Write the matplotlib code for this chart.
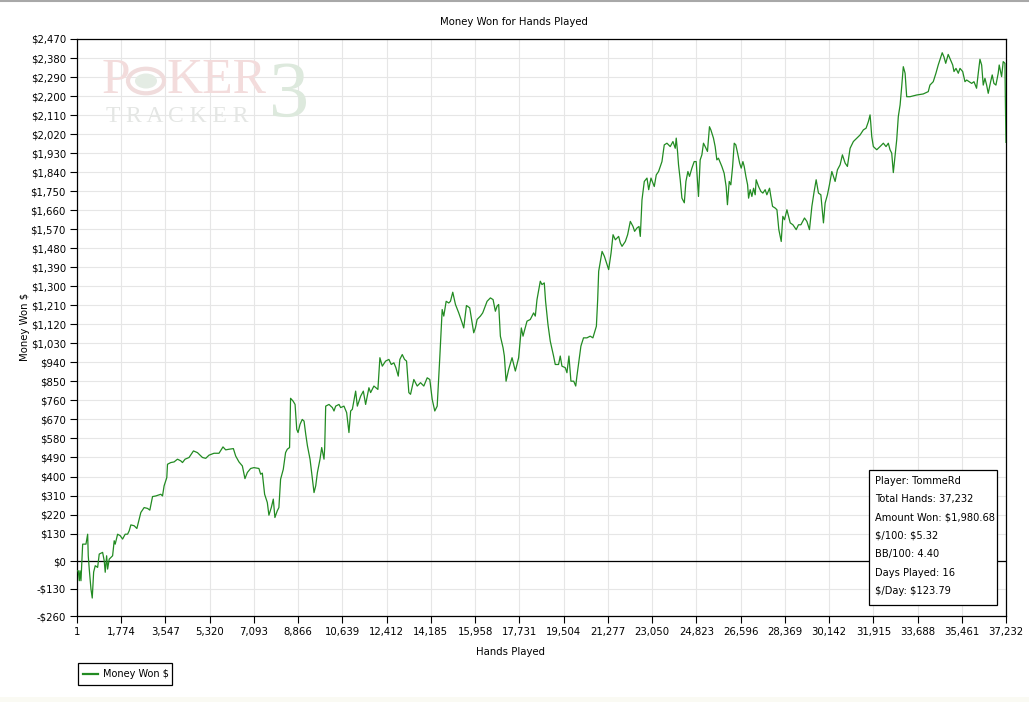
import matplotlib
matplotlib.use("Agg")
import matplotlib.pyplot as plt
from matplotlib.lines import Line2D
from matplotlib.patches import Rectangle, Circle

# ---------------- data ----------------
hands = [1, 52, 92, 120, 160, 200, 228, 360, 428, 452, 492, 560, 612, 668, 732, 828, 892, 1028, 1092, 1132,
         1188, 1228, 1292, 1360, 1428, 1492, 1532, 1628, 1732, 1828, 1932, 2028, 2092, 2160, 2292, 2400, 2492,
         2560, 2692, 2828, 2920, 3028, 3160, 3360, 3428, 3492, 3600, 3628, 3760, 3892, 4028, 4160, 4228, 4332,
         4492, 4668, 4828, 5028, 5160, 5292, 5492, 5692, 5852, 5960, 6092, 6268, 6360, 6492, 6628, 6732, 6828,
         6960, 7092, 7292, 7360, 7428, 7520, 7628, 7692, 7788, 7868, 7932, 8028, 8092, 8160, 8268, 8360, 8428,
         8520, 8560, 8660, 8740, 8808, 8860, 8940, 9028, 9100, 9168, 9236, 9340, 9436, 9500, 9568, 9636, 9740,
         9808, 9900, 9928, 9968, 10100, 10236, 10300, 10368, 10500, 10568, 10700, 10808, 10900, 10968, 11036,
         11168, 11236, 11368, 11476, 11568, 11700, 11768, 11900, 12060, 12140, 12236, 12368, 12500, 12596,
         12700, 12780, 12876, 12940, 13036, 13128, 13208, 13300, 13368, 13500, 13636, 13768, 13900, 14036,
         14140, 14236, 14340, 14436, 14540, 14636, 14700, 14796, 14900, 14968, 15060, 15168, 15300, 15436,
         15500, 15608, 15740, 15836, 15900, 15968, 16036, 16168, 16260, 16436, 16568, 16676, 16768, 16836,
         16900, 16968, 17076, 17128, 17196, 17300, 17436, 17568, 17700, 17808, 17876, 17928, 18036, 18168,
         18300, 18368, 18436, 18568, 18636, 18728, 18780, 18876, 18968, 19100, 19168, 19300, 19368, 19436,
         19568, 19636, 19716, 19796, 19908, 19988, 20036, 20108, 20196, 20300, 20436, 20568, 20676, 20816,
         20868, 20908, 21044, 21136, 21244, 21308, 21404, 21484, 21576, 21708, 21776, 21844, 21976, 22068,
         22176, 22284, 22348, 22444, 22524, 22576, 22644, 22736, 22844, 22912, 23004, 23136, 23216, 23308,
         23444, 23536, 23644, 23776, 23884, 23976, 24016, 24068, 24108, 24176, 24244, 24340, 24404, 24484,
         24548, 24644, 24736, 24816, 24868, 24908, 24976, 25044, 25108, 25176, 25268, 25348, 25404, 25508,
         25576, 25644, 25708, 25844, 25936, 26016, 26068, 26140, 26204, 26276, 26340, 26404, 26476, 26556,
         26620, 26688, 26740, 26808, 26876, 26916, 26980, 27048, 27116, 27180, 27220, 27316, 27408, 27488,
         27580, 27648, 27756, 27808, 27876, 27984, 28052, 28128, 28224, 28288, 28356, 28452, 28516, 28584,
         28692, 28824, 28916, 29012, 29156, 29252, 29356, 29452, 29544, 29624, 29716, 29812, 29916, 29984,
         30076, 30156, 30252, 30384, 30476, 30584, 30676, 30784, 30876, 30984, 31116, 31252, 31384, 31516,
         31624, 31716, 31784, 31812, 31852, 31916, 32052, 32184, 32316, 32424, 32516, 32584, 32652, 32716,
         32784, 32852, 32916, 32988, 33052, 33116, 33188, 33252, 33384, 33652, 33916, 34116, 34184, 34316,
         34424, 34516, 34584, 34676, 34744, 34816, 34916, 34984, 35096, 35148, 35228, 35320, 35388, 35496,
         35588, 35656, 35760, 35856, 35948, 36052, 36120, 36188, 36256, 36320, 36388, 36456, 36520, 36616,
         36680, 36748, 36828, 36920, 36960, 37056, 37120, 37190, 37210, 37232]
money = [-46, -46, -93, -46, -93, 9, 80, 80, 127, 25, -38, -132, -175, -52, -22, -30, 33, 41, 1, -53,
         25, -38, 9, 17, 25, 96, 80, 127, 120, 104, 127, 127, 143, 171, 167, 154, 198,
         230, 253, 249, 241, 305, 308, 316, 308, 356, 395, 458, 466, 469, 482, 474, 466, 482,
         490, 521, 513, 490, 486, 501, 510, 510, 540, 526, 529, 532, 497, 469, 450, 390, 419,
         438, 442, 438, 411, 416, 316, 277, 217, 253, 293, 206, 238, 253, 387, 434, 513, 529,
         537, 770, 757, 741, 623, 608, 647, 670, 662, 600, 545, 482, 387, 324, 356, 419, 482,
         537, 482, 537, 733, 741, 726, 710, 733, 741, 726, 733, 702, 608, 710, 718,
         804, 733, 780, 804, 741, 820, 797, 828, 812, 962, 922, 946, 954, 930,
         938, 915, 875, 954, 977, 954, 946, 797, 789, 859, 828, 844, 828, 867,
         859, 765, 710, 733, 962, 1190, 1159, 1229, 1221, 1229, 1272, 1214, 1174, 1127,
         1103, 1209, 1198, 1127, 1080, 1103, 1143, 1159, 1174, 1229, 1245, 1237, 1182, 1206,
         1214, 1064, 1009, 970, 851, 907, 962, 899, 962, 1103, 1064, 1088, 1135, 1143,
         1174, 1159, 1237, 1324, 1308, 1316, 1229, 1119, 1040, 970, 930, 930, 970, 922,
         915, 891, 970, 851, 851, 828, 875, 938, 1017, 1056, 1056, 1064, 1056, 1111,
         1237, 1371, 1465, 1442, 1402, 1379, 1457, 1544, 1520, 1536, 1505, 1489, 1512, 1544,
         1607, 1583, 1560, 1576, 1583, 1536, 1709, 1796, 1812, 1757, 1812, 1772, 1827, 1843,
         1890, 1969, 1977, 1961, 1985, 1953, 2001, 1938, 1875, 1804, 1717, 1695, 1796, 1843,
         1820, 1859, 1890, 1890, 1796, 1725, 1898, 1922, 1977, 1961, 1938, 2055, 2040, 2001,
         1961, 1898, 1906, 1867, 1835, 1772, 1686, 1796, 1780, 1867, 1977, 1969, 1930, 1883,
         1859, 1890, 1867, 1820, 1780, 1717, 1757, 1725, 1764, 1733, 1804, 1772, 1749, 1741,
         1757, 1733, 1764, 1725, 1678, 1670, 1662, 1568, 1512, 1631, 1615, 1662, 1631, 1600,
         1591, 1568, 1591, 1591, 1623, 1607, 1568, 1678, 1749, 1804, 1741, 1733, 1600, 1694,
         1733, 1780, 1843, 1796, 1851, 1875, 1922, 1883, 1867, 1953, 1985, 2001, 2016, 2040,
         2048, 2079, 2111, 2072, 2008, 1961, 1946, 1961, 1977, 1961, 1977, 1946, 1930, 1838,
         1914, 1993, 2103, 2158, 2245, 2339, 2308, 2197, 2197, 2205, 2210, 2221, 2252, 2268,
         2308, 2347, 2371, 2405, 2386, 2355, 2397, 2378, 2347, 2316, 2331, 2308, 2331, 2316,
         2268, 2276, 2268, 2260, 2268, 2237, 2308, 2374, 2347, 2252, 2284, 2252, 2213, 2268,
         2300, 2260, 2252, 2308, 2347, 2292, 2363, 2355, 2150, 1981]

x_ticks = [1, 1774, 3547, 5320, 7093, 8866, 10639, 12412, 14185, 15958, 17731, 19504, 21277,
           23050, 24823, 26596, 28369, 30142, 31915, 33688, 35461, 37232]
y_ticks = [-260, -130, 0, 130, 220, 310, 400, 490, 580, 670, 760, 850, 940, 1030, 1120, 1210,
           1300, 1390, 1480, 1570, 1660, 1750, 1840, 1930, 2020, 2110, 2200, 2290, 2380, 2470]

stats_lines = ["Player: TommeRd", "Total Hands: 37,232", "Amount Won: $1,980.68", "$/100: $5.32",
               "BB/100: 4.40", "Days Played: 16", "$/Day: $123.79"]

# ---------------- figure ----------------
W, H = 1029, 702
FS = 7.3
GREEN = "#228B22"
fig = plt.figure(figsize=(W / 100, H / 100), dpi=100, facecolor="white")


def fx(px):
    return px / W


def fy(py):
    return 1 - py / H


ax = fig.add_axes([fx(77), fy(616), (1006 - 77) / W, (616 - 39) / H])
ax.set_facecolor("white")

ax.plot(hands, money, color=GREEN, linewidth=0.9, zorder=3)
ax.axhline(0, color="black", linewidth=0.9, zorder=2)

ax.set_xlim(1, 37232)
ax.set_ylim(-260, 2470)
ax.set_xticks(x_ticks)
ax.set_xticklabels([f"{v:,}" for v in x_ticks])
ax.set_yticks(y_ticks)
ax.set_yticklabels([("-$" if v < 0 else "$") + f"{abs(v):,}" for v in y_ticks])
ax.tick_params(axis="both", labelsize=FS, direction="out", length=5, width=0.8, pad=3, colors="black")
ax.grid(True, color="#e6e6e6", linewidth=0.8, zorder=0)
for s in ax.spines.values():
    s.set_color("black")
    s.set_linewidth(0.9)

fig.text(fx(514), fy(22), "Money Won for Hands Played", ha="center", va="center", fontsize=FS)
fig.text(fx(511), fy(652), "Hands Played", ha="center", va="center", fontsize=FS)
fig.text(fx(25), fy(327), "Money Won $", ha="center", va="center", rotation=90, fontsize=FS,
         parse_math=False)

# watermark (PokerTracker 3 logo)
WM_RED = "#f3dcdc"
fig.text(fx(102), fy(81), "P", fontsize=37, family="Liberation Serif", color=WM_RED,
         ha="left", va="center", zorder=1)
fig.add_artist(Circle((fx(146), fy(81)), 18 / W, transform=fig.transFigure, facecolor="none",
                      edgecolor="#f0dcdc", linewidth=3, zorder=1))
fig.add_artist(Circle((fx(146), fy(81)), 11 / W, transform=fig.transFigure, facecolor="#e4ece4",
                      edgecolor="none", zorder=1))
fig.text(fx(166), fy(81), "KER", fontsize=36, family="Liberation Serif", color=WM_RED,
         ha="left", va="center", zorder=1)
fig.text(fx(106), fy(117), "T R A C K E R", fontsize=17, family="Liberation Serif", color="#e4e6e4",
         ha="left", va="center", zorder=1)
fig.text(fx(289), fy(97), "3", fontsize=58, family="Liberation Serif", color="#dde9dd",
         ha="center", va="center", zorder=1)

# stats box
fig.add_artist(Rectangle((fx(869), fy(605)), (997 - 869) / W, (605 - 470) / H, transform=fig.transFigure,
                         facecolor="white", edgecolor="black", linewidth=0.9, zorder=5))
for i, line in enumerate(stats_lines):
    fig.text(fx(875), fy(481 + i * 18.3), line, fontsize=FS * 0.97, ha="left", va="center",
             parse_math=False, zorder=6)

# legend (drawn manually at the bottom-left)
fig.add_artist(Rectangle((fx(78), fy(685)), (172 - 78) / W, (685 - 663) / H, transform=fig.transFigure,
                         facecolor="white", edgecolor="black", linewidth=0.9))
fig.add_artist(Line2D([fx(83), fx(98)], [fy(674), fy(674)], transform=fig.transFigure, color=GREEN,
                      linewidth=1.6))
fig.text(fx(103), fy(674), "Money Won $", fontsize=7.0, ha="left", va="center", parse_math=False)

# window frame details
fig.add_artist(Line2D([0, 1], [fy(1), fy(1)], transform=fig.transFigure, color="#a8a8a8", linewidth=1.5))
fig.add_artist(Rectangle((0, 0), 1, 5 / H, transform=fig.transFigure, facecolor="#fafaf3",
                         edgecolor="none"))

fig.savefig("out.png", dpi=100, facecolor="white")
